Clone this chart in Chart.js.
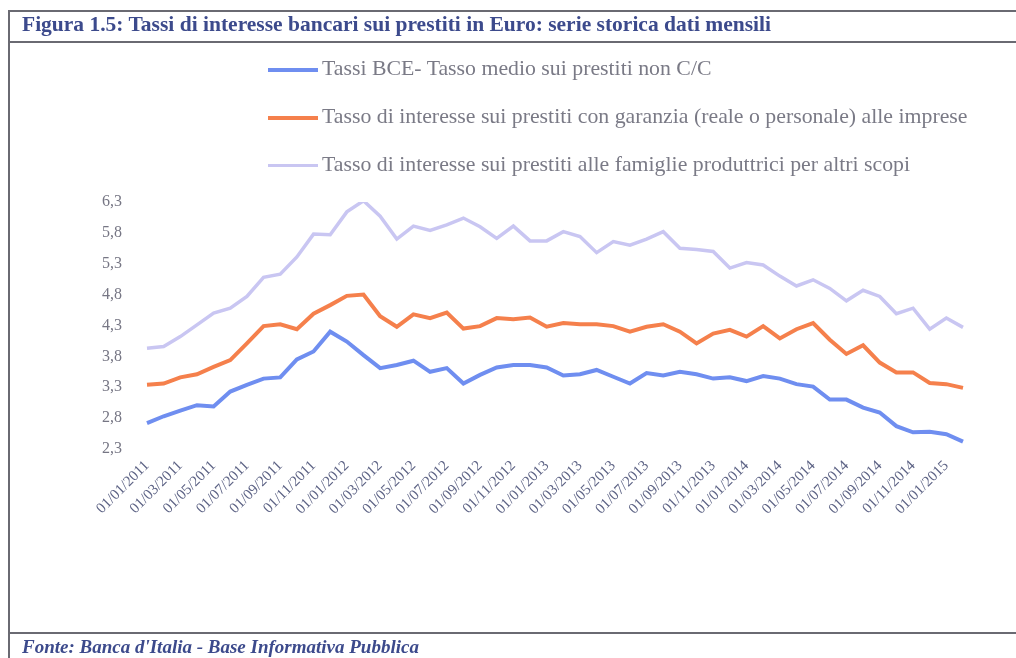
<!DOCTYPE html>
<html>
<head>
<meta charset="utf-8">
<script src="https://cdn.jsdelivr.net/npm/chart.js@4"></script>
<style>
  body{margin:0;background:#fff;}
  #wrap{position:relative;width:1016px;height:658px;overflow:hidden;}
  #c{position:absolute;left:0;top:0;}
  .hl{position:absolute;left:8px;right:0;height:0;border-top:2px solid #6a6a72;}
  .vl{position:absolute;left:8px;top:10px;bottom:0;width:0;border-left:2px solid #6a6a72;}
  .title{position:absolute;left:22px;top:12px;font:bold 21.5px "Liberation Serif",serif;color:#3c4a8c;white-space:nowrap;}
  .foot{position:absolute;left:22px;top:636px;font:italic bold 19px "Liberation Serif",serif;color:#3c4a8c;white-space:nowrap;}
  #legend{position:absolute;left:268px;top:56px;}
  .li{position:relative;height:48px;font:21.8px "Liberation Serif",serif;color:#7a7a86;white-space:nowrap;}
  .li span.sw{position:absolute;left:0;width:50px;}
  .li span.tx{position:absolute;left:54px;top:0;}
</style>
</head>
<body>
<div id="wrap">
  <canvas id="c" width="1016" height="658"></canvas>
  <div class="hl" style="top:10px"></div>
  <div class="hl" style="top:41px"></div>
  <div class="hl" style="top:632px"></div>
  <div class="vl"></div>
  <div class="title">Figura 1.5: Tassi di interesse bancari sui prestiti in Euro: serie storica dati mensili</div>
  <div class="foot">Fonte: Banca d'Italia - Base Informativa Pubblica</div>
  <div id="legend"></div>
</div>
<script>
// mesi (dati mensili gen 2011 - feb 2015)
const months = [
  "01/01/2011","01/02/2011","01/03/2011","01/04/2011","01/05/2011","01/06/2011",
  "01/07/2011","01/08/2011","01/09/2011","01/10/2011","01/11/2011","01/12/2011",
  "01/01/2012","01/02/2012","01/03/2012","01/04/2012","01/05/2012","01/06/2012",
  "01/07/2012","01/08/2012","01/09/2012","01/10/2012","01/11/2012","01/12/2012",
  "01/01/2013","01/02/2013","01/03/2013","01/04/2013","01/05/2013","01/06/2013",
  "01/07/2013","01/08/2013","01/09/2013","01/10/2013","01/11/2013","01/12/2013",
  "01/01/2014","01/02/2014","01/03/2014","01/04/2014","01/05/2014","01/06/2014",
  "01/07/2014","01/08/2014","01/09/2014","01/10/2014","01/11/2014","01/12/2014",
  "01/01/2015","01/02/2015"
];

const tassiBCE = [
  2.72,2.83,2.92,3.01,2.99,3.23,3.34,3.44,3.46,3.75,3.88,4.20,
  4.04,3.82,3.61,3.66,3.73,3.55,3.61,3.36,3.50,3.62,3.66,3.66,
  3.62,3.49,3.51,3.58,3.47,3.36,3.53,3.49,3.55,3.51,3.44,3.46,
  3.40,3.48,3.44,3.35,3.31,3.10,3.10,2.97,2.89,2.67,2.57,2.58,
  2.54,2.42
];

const tassiImprese = [
  3.34,3.36,3.46,3.51,3.63,3.74,4.01,4.29,4.32,4.24,4.49,4.63,
  4.78,4.80,4.45,4.28,4.48,4.42,4.51,4.25,4.29,4.42,4.40,4.43,
  4.28,4.34,4.32,4.32,4.29,4.20,4.28,4.32,4.20,4.01,4.17,4.23,
  4.12,4.29,4.09,4.24,4.34,4.07,3.84,3.98,3.70,3.54,3.54,3.37,
  3.35,3.29
];

const tassiFamiglie = [
  3.93,3.96,4.12,4.31,4.50,4.58,4.77,5.08,5.13,5.41,5.78,5.77,
  6.14,6.32,6.07,5.70,5.91,5.84,5.93,6.04,5.90,5.71,5.91,5.67,
  5.67,5.82,5.74,5.48,5.66,5.60,5.70,5.82,5.55,5.53,5.50,5.23,
  5.32,5.28,5.10,4.94,5.04,4.90,4.70,4.87,4.77,4.49,4.58,4.24,
  4.42,4.27
];

const yTicks = [2.3, 2.8, 3.3, 3.8, 4.3, 4.8, 5.3, 5.8, 6.3];

const seriesNames = [
  "Tassi BCE- Tasso medio sui prestiti non C/C",
  "Tasso di interesse sui prestiti con garanzia (reale o personale) alle imprese",
  "Tasso di interesse sui prestiti alle famiglie produttrici per altri scopi"
];
const seriesColors = ["#6f8ef0", "#f5804c", "#c9c6f2"];
const seriesWidths = [4, 4, 3.5];
const seriesData = [tassiBCE, tassiImprese, tassiFamiglie];

// legenda html (una voce per riga)
let legendHtml = "";
seriesNames.forEach((name, i) => {
  legendHtml += '<div class="li"><span class="sw" style="top:' + (14 - seriesWidths[i] / 2) +
    'px;border-top:' + seriesWidths[i] + 'px solid ' + seriesColors[i] + '"></span>' +
    '<span class="tx">' + name + '</span></div>';
});
document.getElementById("legend").innerHTML = legendHtml;

const ctx = document.getElementById("c");
new Chart(ctx, {
  type: "line",
  data: {
    labels: months,
    datasets: seriesNames.map((name, i) => ({
      label: name,
      data: seriesData[i],
      borderColor: seriesColors[i],
      backgroundColor: seriesColors[i],
      borderWidth: seriesWidths[i],
      pointRadius: 0,
      tension: 0,
      fill: false
    }))
  },
  options: {
    responsive: false,
    animation: false,
    devicePixelRatio: 1,
    layout: {padding: {left: 100, right: 53, top: 202, bottom: 109}},
    plugins: {legend: {display: false}, tooltip: {enabled: false}},
    scales: {
      x: {
        offset: false,
        grid: {display: false, drawTicks: false},
        border: {display: false},
        afterFit: s => { s.height = 100; },
        ticks: {
          autoSkip: false,
          minRotation: 45,
          maxRotation: 45,
          padding: 8,
          color: "#5d6385",
          font: {family: "Liberation Serif", size: 15},
          callback: function(v, i){ return i % 2 === 0 ? months[i] : ""; }
        }
      },
      y: {
        min: 2.3,
        max: 6.3,
        grid: {display: false, drawTicks: false},
        border: {display: false},
        afterFit: s => { s.width = 47; },
        afterBuildTicks: s => { s.ticks = yTicks.map(v => ({value: v})); },
        ticks: {
          padding: 25,
          color: "#767684",
          font: {family: "Liberation Serif", size: 16},
          callback: v => v.toFixed(1).replace(".", ",")
        }
      }
    }
  }
});
</script>
</body>
</html>
